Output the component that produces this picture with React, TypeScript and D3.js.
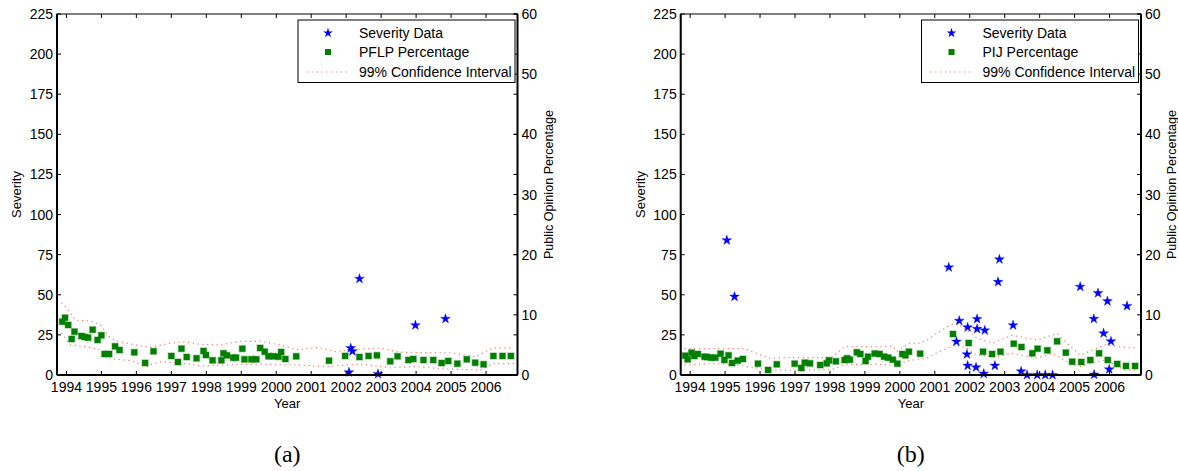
import React from 'react';
import * as d3 from 'd3';

// ---- data (year, value) ----
const pflpPct: [number, number][] = [
  [1993.88, 8.86], [1993.96, 9.52], [1994.05, 8.31], [1994.15, 5.98], [1994.23, 7.2],
  [1994.43, 6.48], [1994.52, 6.32], [1994.62, 6.2], [1994.75, 7.53], [1994.89, 5.82],
  [1995.0, 6.6], [1995.09, 3.49], [1995.22, 3.49], [1995.39, 4.77], [1995.52, 4.15],
  [1995.94, 3.77], [1996.25, 2.0], [1996.49, 3.94], [1997.0, 3.16], [1997.19, 2.16],
  [1997.29, 4.37], [1997.44, 2.99], [1997.72, 2.78], [1997.92, 3.99], [1997.99, 3.32],
  [1998.18, 2.44], [1998.43, 2.44], [1998.49, 3.61], [1998.59, 3.27], [1998.77, 2.88],
  [1998.85, 2.88], [1999.03, 4.37], [1999.09, 2.61], [1999.29, 2.61], [1999.43, 2.61],
  [1999.54, 4.49], [1999.67, 3.87], [1999.78, 3.11], [1999.91, 3.11], [2000.06, 3.04],
  [2000.14, 3.82], [2000.26, 2.66], [2000.57, 3.11], [2001.51, 2.38], [2001.97, 3.16],
  [2002.38, 2.99], [2002.64, 3.16], [2002.88, 3.27], [2003.26, 2.28], [2003.47, 3.11],
  [2003.78, 2.49], [2003.92, 2.66], [2004.21, 2.49], [2004.49, 2.49], [2004.73, 1.99],
  [2004.92, 2.33], [2005.18, 1.88], [2005.45, 2.61], [2005.69, 2.04], [2005.93, 1.78],
  [2006.21, 3.16], [2006.47, 3.16], [2006.71, 3.16],
];
const pflpSeverity: [number, number][] = [
  [2002.38, 60], [2002.13, 16.8], [2002.18, 14.8], [2002.08, 1.7], [2002.91, 0.6],
  [2003.98, 31], [2004.84, 35],
];
const pflpCiUpper: [number, number][] = [
  [1993.86, 12], [1994.05, 10.8], [1994.26, 9.1], [1994.69, 9], [1994.97, 8.3],
  [1995.26, 6.1], [1995.54, 5.5], [1995.97, 5], [1996.4, 4.6], [1996.97, 5.3],
  [1997.4, 5.5], [1997.83, 5.1], [1998.4, 5.0], [1998.97, 5.6], [1999.54, 5.6],
  [2000.11, 5], [2000.57, 4.2], [2001.2, 4.6], [2001.69, 3.9], [2002.4, 4.3],
  [2002.97, 4.5], [2003.5, 3.8], [2004.4, 3.7], [2005.0, 3.7], [2005.69, 3.0],
  [2006.2, 4.5], [2006.8, 4.5],
];
const pflpCiLower: [number, number][] = [
  [1993.86, 7], [1994.11, 5], [1994.54, 4.7], [1994.97, 4.2], [1995.26, 2.7],
  [1995.83, 2.4], [1996.26, 1.4], [1996.69, 2.2], [1997.26, 2], [1997.83, 1.5],
  [1998.69, 1.7], [1999.54, 1.8], [2000.11, 1.7], [2000.57, 1.7], [2001.4, 1.4],
  [2002.4, 1.8], [2003.26, 1.2], [2004.0, 1.4], [2004.7, 1.05], [2005.83, 0.8],
  [2006.2, 1.9], [2006.8, 1.9],
];

const pijPct: [number, number][] = [
  [1993.86, 3.21], [1993.93, 2.61], [1994.04, 3.71], [1994.12, 3.16], [1994.22, 3.49],
  [1994.41, 3.04], [1994.49, 2.99], [1994.6, 2.88], [1994.72, 2.88], [1994.87, 3.54],
  [1994.98, 2.49], [1995.1, 3.27], [1995.2, 1.99], [1995.36, 2.38], [1995.51, 2.66],
  [1995.94, 1.88], [1996.23, 0.83], [1996.48, 1.78], [1996.99, 1.88], [1997.18, 1.16],
  [1997.28, 2.04], [1997.43, 1.94], [1997.72, 1.66], [1997.91, 1.94], [1997.97, 2.44],
  [1998.17, 2.28], [1998.42, 2.49], [1998.49, 2.78], [1998.57, 2.54], [1998.77, 3.77],
  [1998.87, 3.49], [1999.02, 2.33], [1999.09, 3.04], [1999.28, 3.57], [1999.42, 3.49],
  [1999.55, 3.04], [1999.67, 2.88], [1999.8, 2.54], [1999.93, 1.88], [2000.07, 3.49],
  [2000.16, 3.27], [2000.26, 3.87], [2000.58, 3.54], [2001.52, 6.81], [2001.97, 5.32],
  [2002.38, 3.87], [2002.64, 3.49], [2002.88, 3.87], [2003.26, 5.2], [2003.48, 4.65],
  [2003.79, 3.61], [2003.94, 4.37], [2004.22, 4.1], [2004.5, 5.6], [2004.75, 3.71],
  [2004.93, 2.21], [2005.19, 2.16], [2005.45, 2.49], [2005.7, 3.61], [2005.95, 2.49],
  [2006.22, 1.83], [2006.47, 1.5], [2006.73, 1.5],
];
const pijSeverity: [number, number][] = [
  [1995.05, 84], [1995.27, 48.8], [2001.4, 67.1], [2001.7, 33.8], [2001.62, 20.8],
  [2001.94, 29.7], [2001.92, 12.9], [2001.94, 5.8], [2002.21, 34.9], [2002.21, 28.7],
  [2002.18, 4.8], [2002.43, 27.8], [2002.4, 0.8], [2002.85, 72.1], [2002.81, 58],
  [2002.72, 5.8], [2003.24, 31], [2003.47, 2.3], [2003.64, 0], [2003.93, 0],
  [2004.16, 0], [2004.37, 0], [2005.16, 55], [2005.55, 35], [2005.56, 0.2],
  [2005.67, 51], [2005.83, 26], [2005.94, 46], [2006.04, 21], [2005.99, 3.5],
  [2006.5, 43],
];
const pijCiUpper: [number, number][] = [
  [1993.84, 4.4], [1994.7, 4.4], [1995.56, 4.4], [1995.9, 3.6], [1996.27, 2.8],
  [1996.85, 2.9], [1997.42, 2.9], [1998.05, 2.9], [1998.42, 4.7], [1999.28, 4.7],
  [1999.8, 4.8], [1999.91, 3.9], [2000.28, 5.3], [2000.57, 5.3], [2000.77, 5.8],
  [2001.14, 7.2], [2001.43, 8.3], [2001.63, 8.6], [2001.92, 7.5], [2002.2, 6.1],
  [2002.66, 5.3], [2003.21, 6.6], [2003.92, 5.8], [2004.5, 6.9], [2004.78, 5.3],
  [2005.16, 3.3], [2005.87, 5.0], [2006.44, 4.6], [2006.8, 4.5],
];
const pijCiLower: [number, number][] = [
  [1993.84, 1.7], [1994.7, 1.9], [1995.56, 1.5], [1996.27, 0.8], [1997.13, 0.8],
  [1998.05, 0.9], [1998.42, 1.7], [1999.28, 1.8], [1999.8, 1.6], [2000.28, 2.4],
  [2000.77, 2.8], [2001.14, 3.9], [2001.57, 5], [2001.92, 4.5], [2002.2, 3.3],
  [2002.72, 3.0], [2003.21, 3.6], [2003.92, 2.8], [2004.38, 3.6], [2004.78, 2.2],
  [2005.16, 1.4], [2005.87, 2.5], [2006.44, 0.8], [2006.8, 0.8],
];

const yearTicks = d3.range(1994, 2007);
const severityTicks = d3.range(0, 226, 25);
const pctTicks = d3.range(0, 61, 10);

const FONT = "'Liberation Sans', Arial, Helvetica, sans-serif";
const top = 14;
const bottom = 375;

type PanelProps = {
  left: number;
  right: number;
  pct: [number, number][];
  sev: [number, number][];
  ciUp: [number, number][];
  ciLo: [number, number][];
  name: string;
  tag: string;
};

function Panel({ left, right, pct, sev, ciUp, ciLo, name, tag }: PanelProps) {
  const x = d3.scaleLinear().domain([1993.73, 2006.9]).range([left, right]);
  const ySev = d3.scaleLinear().domain([0, 225]).range([bottom, top]);
  const yPct = d3.scaleLinear().domain([0, 60]).range([bottom, top]);
  const ciLine = d3.line<[number, number]>().x(d => x(d[0])).y(d => yPct(d[1]));
  const star = d3.symbol().type(d3.symbolStar).size(30)() as string;
  const mid = (left + right) / 2;
  const lgX = right - 219.5;
  const tk = 4;

  return (
    <g fontFamily={FONT}>
      {/* CI */}
      {[ciUp, ciLo].map((c, i) => (
        <path key={i} d={ciLine(c) as string} fill="none" stroke="#f26b55"
          strokeWidth={1.2} strokeDasharray="1.2 3.6" opacity={0.9} />
      ))}
      {/* percentages */}
      {pct.map((d, i) => (
        <rect key={i} x={x(d[0]) - 3} y={yPct(d[1]) - 3} width={6} height={6}
          fill="#007f00" stroke="rgba(0,128,0,0.35)" strokeWidth={1.4} />
      ))}
      {/* severity */}
      {sev.map((d, i) => (
        <path key={i} d={star} transform={`translate(${x(d[0])},${ySev(d[1])})`}
          fill="#0000ff" stroke="rgba(0,0,255,0.35)" strokeWidth={1} />
      ))}
      {/* frame */}
      <rect x={left} y={top} width={right - left} height={bottom - top} fill="none" stroke="#000" strokeWidth={1} />
      <line x1={left} x2={left} y1={top} y2={bottom} stroke="#000" strokeWidth={2} />
      <line x1={right} x2={right} y1={top} y2={bottom} stroke="#000" strokeWidth={2} />
      <line x1={left} x2={right} y1={bottom} y2={bottom} stroke="#000" strokeWidth={2} />
      {/* x ticks */}
      {yearTicks.map(t => (
        <g key={t}>
          <line x1={x(t)} x2={x(t)} y1={bottom} y2={bottom - tk} stroke="#000" />
          <line x1={x(t)} x2={x(t)} y1={top} y2={top + tk} stroke="#000" />
          <text x={x(t)} y={392} textAnchor="middle" fontSize={14}>{t}</text>
        </g>
      ))}
      {/* severity ticks */}
      {severityTicks.map(t => (
        <g key={t}>
          <line x1={left} x2={left + tk} y1={ySev(t)} y2={ySev(t)} stroke="#000" />
          <line x1={right} x2={right - tk} y1={ySev(t)} y2={ySev(t)} stroke="#000" />
          <text x={left - 4} y={ySev(t) + 5} textAnchor="end" fontSize={14}>{t}</text>
        </g>
      ))}
      {/* pct ticks */}
      {pctTicks.map(t => (
        <g key={t}>
          <line x1={right} x2={right - tk} y1={yPct(t)} y2={yPct(t)} stroke="#000" />
          <text x={right + 4} y={yPct(t) + 5} textAnchor="start" fontSize={14}>{t}</text>
        </g>
      ))}
      {/* axis labels */}
      <text x={mid} y={408} textAnchor="middle" fontSize={13}>Year</text>
      <text transform={`translate(${left - 36},${(top + bottom) / 2}) rotate(-90)`} textAnchor="middle" fontSize={13}>Severity</text>
      <text transform={`translate(${right + 35},${(top + bottom) / 2 - 10}) rotate(-90)`} textAnchor="middle" fontSize={12.6}>Public Opinion Percentage</text>
      <text x={mid} y={462} textAnchor="middle" fontSize={24} fontFamily="'Liberation Serif', 'Times New Roman', serif">{tag}</text>
      {/* legend */}
      <rect x={lgX} y={20} width={217} height={62.5} fill="#fff" stroke="#000" strokeWidth={1} />
      <path d={star} transform={`translate(${lgX + 30},33)`} fill="#0000ff" />
      <rect x={lgX + 27} y={49} width={6} height={6} fill="#007f00" />
      <line x1={lgX + 9} x2={lgX + 50} y1={72} y2={72} stroke="#f26b55" strokeWidth={1.2} strokeDasharray="1.2 3.6" opacity={0.9} />
      <text x={lgX + 61} y={38} fontSize={14}>Severity Data</text>
      <text x={lgX + 61} y={57} fontSize={14}>{name}</text>
      <text x={lgX + 61} y={77} fontSize={14}>99% Confidence Interval</text>
    </g>
  );
}

export default function App() {
  return (
    <svg width={1178} height={471} style={{ position: 'absolute', left: 0, top: 0, background: '#fff' }}>
      <Panel left={57} right={517.5} pct={pflpPct} sev={pflpSeverity} ciUp={pflpCiUpper} ciLo={pflpCiLower} name="PFLP Percentage" tag="(a)" />
      <Panel left={680.7} right={1141} pct={pijPct} sev={pijSeverity} ciUp={pijCiUpper} ciLo={pijCiLower} name="PIJ Percentage" tag="(b)" />
    </svg>
  );
}
